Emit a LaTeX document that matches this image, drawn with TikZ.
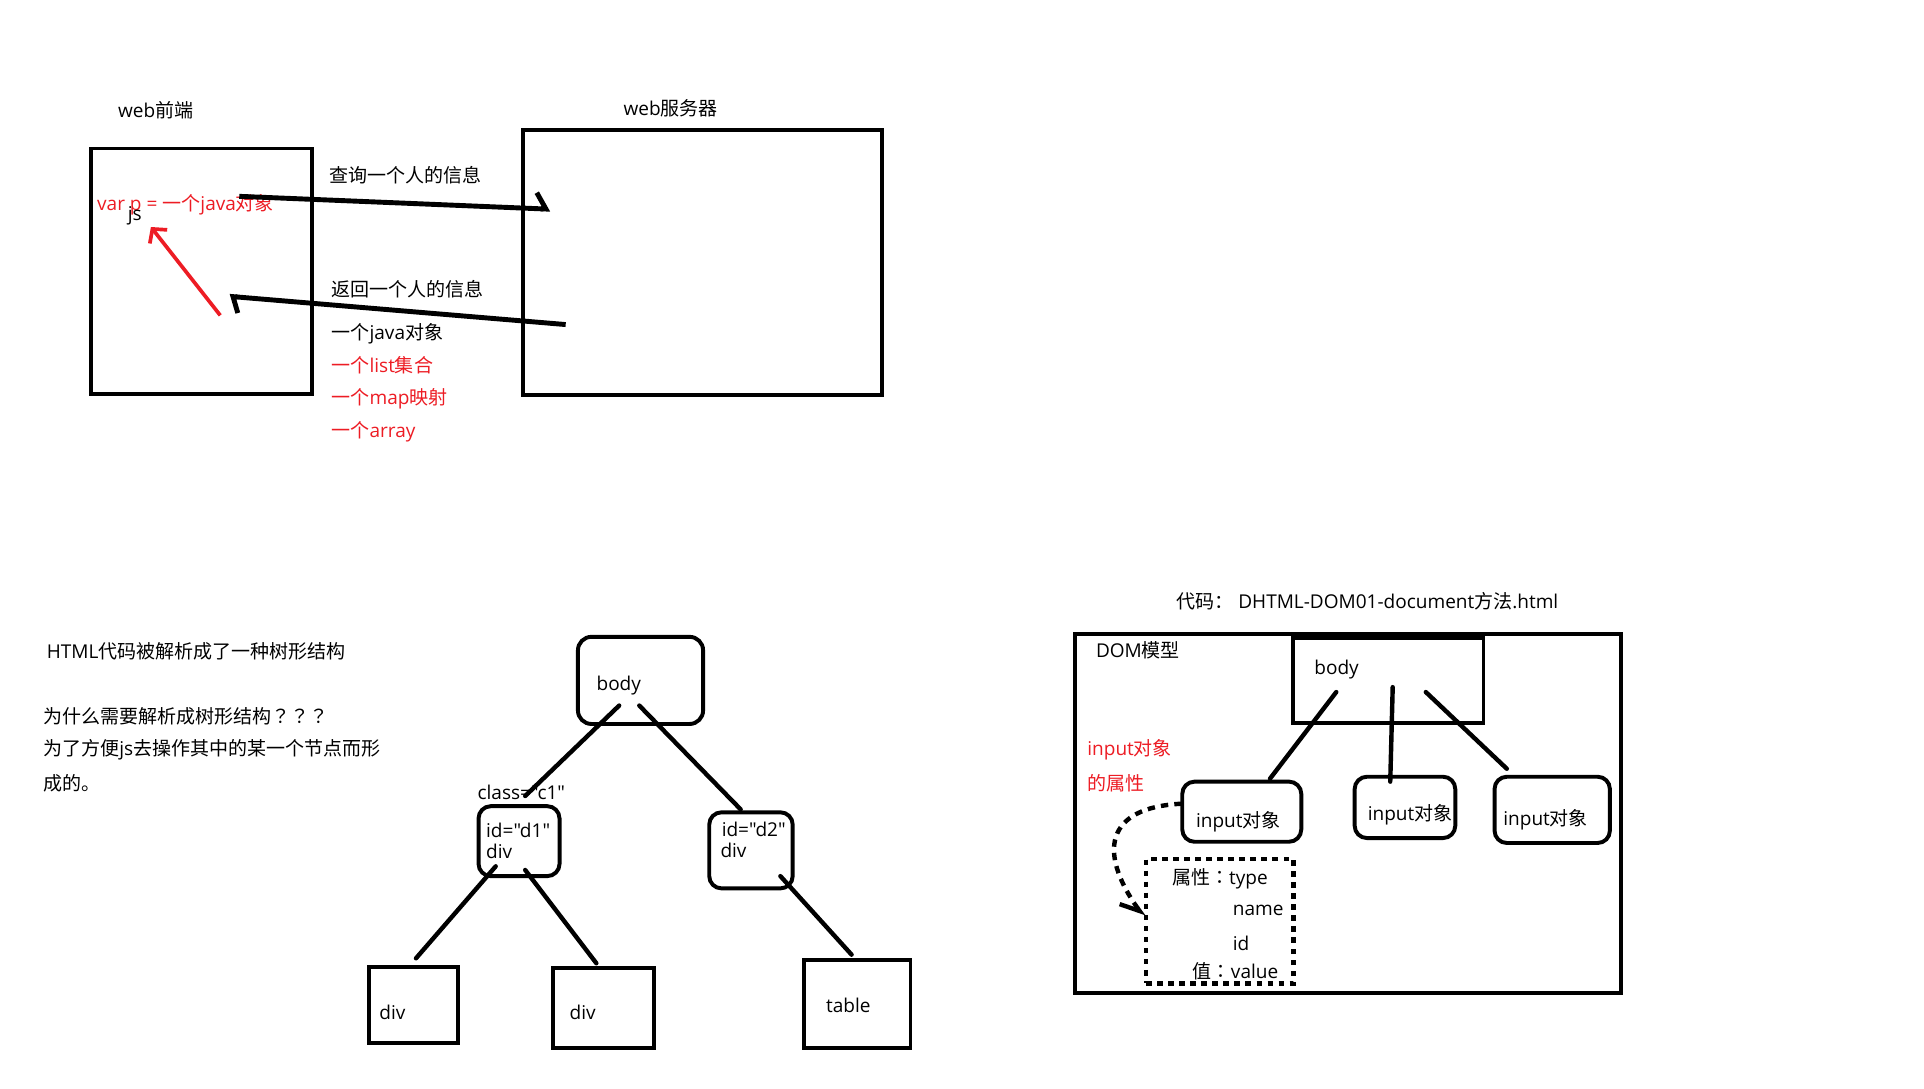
\documentclass[tikz,border=0pt]{standalone}
\usepackage{fontspec}
\setmainfont{Open Sans}[Ligatures=TeXOff]
\newfontfamily\cjk{Noto Sans CJK SC}[Ligatures=TeXOff]
\newfontfamily\cjt{Noto Sans CJK TC}[Ligatures=TeXOff]
\newcommand{\zh}[1]{{\cjk #1}}
\newcommand{\zt}[1]{{\cjt #1}}
\usetikzlibrary{arrows.meta}
\definecolor{pred}{RGB}{237,28,36}
\begin{document}
\begin{tikzpicture}[x=1pt,y=-1pt,font=\fontsize{15.5}{18}\selectfont,
  box/.style={draw,line width=3.2pt,inner sep=0pt,outer sep=0pt},
  rbox/.style={box,rounded corners=11pt},
  txt/.style={anchor=west,inner sep=0pt},
  redt/.style={txt,text=pred},
  conn/.style={line width=3.6pt,line cap=round},
  dotbox/.style={draw,line width=3.6pt,dash pattern=on 4.5pt off 4.5pt,inner sep=0pt}]
\fill[white] (0,0) rectangle (1568,887);
\useasboundingbox (0,0) rectangle (1568,887);

% ---------- top part ----------
\node[txt] (lfe) at (96,90) {web\zh{前端}};
\node[txt] (lsv) at (508,88) {web\zh{服务器}};
\node[box,minimum width=180pt,minimum height=200pt] (fe) at (164,221) {};
\node[box,minimum width=293pt,minimum height=216pt] (sv) at (572.5,214) {};
\node[txt] (q) at (268,143) {\zh{查询一个人的信息}};
\node[txt] (r) at (270,236) {\zh{返回一个人的信息}};
\node[txt] (o1) at (270,272) {\zh{一个}java\zh{对象}};
\node[redt] (o2) at (270,298) {\zh{一个}list\zh{集合}};
\node[redt] (o3) at (270,325) {\zh{一个}map\zh{映射}};
\node[redt] (o4) at (270,352) {\zh{一个}array};
\node[redt] (var) at (79,167) {var p = \zh{一个}java\zh{对象}};
\node[txt] (js) at (104,176) {js};

\coordinate (a1s) at (195,160);
\coordinate (a1e) at (448.5,170.5);
\draw[line width=4pt,-{Straight Barb[left,length=8pt,width=26pt]}] (a1s) -- (a1e);
\coordinate (a2s) at (461,264.5);
\coordinate (a2e) at (187,241.5);
\draw[line width=4pt,-{Straight Barb[left,length=5pt,width=26pt]}] (a2s) -- (a2e);
\coordinate (a3s) at (179.5,257);
\coordinate (a3e) at (123,185);
\draw[pred,line width=3pt,-{Straight Barb[length=8pt,width=18pt]}] (a3s) -- (a3e);

% ---------- bottom left text ----------
\node[txt] (t1) at (38,531) {HTML\zh{代码被解析成了一种树形结构}};
\node[txt] (t2) at (35,584) {\zh{为什么需要解析成树形结构}\zt{？？？}};
\node[txt] (t3) at (35,611) {\zh{为了方便}js\zh{去操作其中的某一个节点而形}};
\node[txt] (t4) at (35,638) {\zh{成的。}};

% ---------- tree ----------
\node[rbox,minimum width=102pt,minimum height=71pt] (body) at (522,554.5) {};
\node[rbox,rounded corners=10pt,minimum width=66pt,minimum height=57pt] (d1) at (423,685.5) {};
\node[rbox,rounded corners=10pt,minimum width=68pt,minimum height=62pt] (d2) at (612,693) {};
\node[box,minimum width=73pt,minimum height=62pt] (l1) at (337,819) {};
\node[box,minimum width=82pt,minimum height=65pt] (l2) at (492,821.5) {};
\node[box,minimum width=87pt,minimum height=72pt] (tb) at (698.5,818) {};
\node[txt] (tbody) at (486,559) {body};
\node[txt] (tcls) at (389,646) {class="c1"};
\node[txt] (tid1) at (396,677) {id="d1"};
\node[txt] (tdv1) at (396,694) {div};
\node[txt] (tid2) at (588,676) {id="d2"};
\node[txt] (tdv2) at (587,693) {div};
\node[txt] (tl1) at (309,825) {div};
\node[txt] (tl2) at (464,825) {div};
\node[txt] (ttb) at (673,819) {table};

\coordinate (e1a) at (504.6,575);  \coordinate (e1b) at (428,648.7);
\coordinate (e2a) at (521,575);    \coordinate (e2b) at (603.6,659.6);
\coordinate (e3a) at (404,706);    \coordinate (e3b) at (339,781);
\coordinate (e4a) at (428,709);    \coordinate (e4b) at (486,785);
\coordinate (e5a) at (636,714);    \coordinate (e5b) at (694,778);
\draw[conn] (e1a) -- (e1b);
\draw[conn] (e2a) -- (e2b);
\draw[conn] (e3a) -- (e3b);
\draw[conn] (e4a) -- (e4b);
\draw[conn] (e5a) -- (e5b);

% ---------- DOM model ----------
\node[txt] (code) at (958.5,490) {\zh{代码：}\ DHTML-DOM01-document\zh{方法}.html};
\node[box,minimum width=445pt,minimum height=292pt] (dom) at (1098.5,663) {};
\node[txt] (tdom) at (893,530) {DOM\zh{模型}};
\node[box,minimum width=155pt,minimum height=69.5pt] (dbody) at (1131.5,554.75) {};
\node[txt] (tdbody) at (1071,546) {body};
\node[rbox,rounded corners=10pt,minimum width=97pt,minimum height=49pt] (in1) at (1012,661.5) {};
\node[rbox,rounded corners=10pt,minimum width=82pt,minimum height=50pt] (in2) at (1145,658) {};
\node[rbox,rounded corners=10pt,minimum width=94pt,minimum height=54pt] (in3) at (1265,660) {};
\node[txt] (tin1) at (974.5,670) {input\zh{对象}};
\node[txt] (tin2) at (1114.5,664) {input\zh{对象}};
\node[txt] (tin3) at (1225,668) {input\zh{对象}};
\node[redt] (rin) at (886,611) {input\zh{对象}};
\node[redt] (rattr) at (886,638) {\zh{的属性}};
\node[dotbox,minimum width=120pt,minimum height=101.5pt] (attr) at (994,750.75) {};
\node[txt] (a1) at (955,716) {\zh{属性}\zt{：}type};
\node[txt] (a2) at (1004.5,742) {name};
\node[txt] (a3) at (1004.5,768.5) {id};
\node[txt] (a4) at (972,791.5) {\zh{值}\zt{：}value};

\coordinate (f1a) at (1089,564);  \coordinate (f1b) at (1035,634.6);
\coordinate (f2a) at (1135,560);  \coordinate (f2b) at (1133,637);
\coordinate (f3a) at (1162,564);  \coordinate (f3b) at (1228,626.5);
\draw[conn] (f1a) -- (f1b);
\draw[conn] (f2a) -- (f2b);
\draw[conn] (f3a) -- (f3b);

\coordinate (ds) at (963,655);
\coordinate (de) at (932,747);
\draw[line width=3.6pt,dash pattern=on 6pt off 5pt,-{Straight Barb[right,length=14pt,width=20pt]}]
  (ds) .. controls (900,658) and (895,695) .. (de);
\end{tikzpicture}
\end{document}
